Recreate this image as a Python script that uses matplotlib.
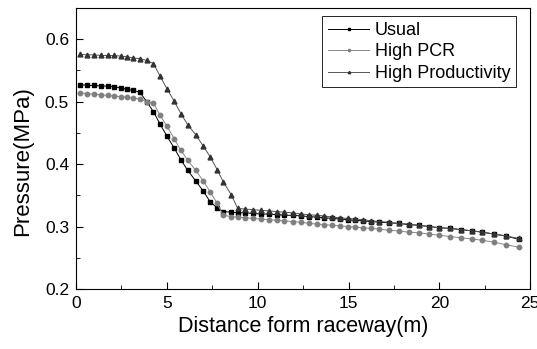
import matplotlib
matplotlib.use("Agg")
import matplotlib.pyplot as plt
from matplotlib.ticker import MultipleLocator

plt.rcParams['font.family'] = ['Liberation Sans', 'DejaVu Sans']

# distance from raceway (m), shared mesh for all three cases
distance = [0.22, 0.6, 1.0, 1.38, 1.75, 2.1, 2.45, 2.8, 3.15, 3.52, 3.89, 4.26,
            4.63, 5.0, 5.4, 5.77, 6.15, 6.59, 7.0, 7.4, 7.77, 8.1, 8.54, 8.9,
            9.32, 9.76, 10.18, 10.63, 11.05, 11.47, 11.93, 12.39, 12.83, 13.25,
            13.67, 14.11, 14.54, 14.96, 15.35, 15.8, 16.25, 16.7, 17.2, 17.75,
            18.3, 18.85, 19.44, 20.0, 20.59, 21.2, 21.81, 22.37, 22.98, 23.64, 24.36]

usual = [0.5275, 0.526, 0.526, 0.525, 0.525, 0.524, 0.522, 0.520, 0.518, 0.515,
         0.500, 0.484, 0.464, 0.445, 0.426, 0.407, 0.390, 0.373, 0.357, 0.339,
         0.330, 0.324, 0.323, 0.322, 0.322, 0.321, 0.320, 0.320, 0.319, 0.318,
         0.318, 0.317, 0.316, 0.315, 0.314, 0.313, 0.312, 0.311, 0.310, 0.309,
         0.308, 0.307, 0.306, 0.305, 0.303, 0.302, 0.300, 0.298, 0.297, 0.295,
         0.293, 0.291, 0.288, 0.285, 0.2795]

high_pcr = [0.514, 0.513, 0.512, 0.511, 0.510, 0.509, 0.508, 0.507, 0.506, 0.504,
            0.500, 0.498, 0.478, 0.461, 0.441, 0.422, 0.406, 0.390, 0.373, 0.355,
            0.337, 0.318, 0.316, 0.315, 0.314, 0.313, 0.312, 0.311, 0.310, 0.309,
            0.308, 0.307, 0.305, 0.304, 0.303, 0.302, 0.301, 0.300, 0.299, 0.298,
            0.297, 0.296, 0.294, 0.293, 0.291, 0.290, 0.288, 0.286, 0.284, 0.282,
            0.280, 0.278, 0.275, 0.271, 0.267]

high_prod = [0.576, 0.575, 0.575, 0.574, 0.574, 0.574, 0.573, 0.572, 0.570, 0.569,
             0.566, 0.561, 0.541, 0.521, 0.501, 0.481, 0.463, 0.447, 0.429, 0.411,
             0.391, 0.372, 0.351, 0.329, 0.328, 0.327, 0.326, 0.325, 0.324, 0.323,
             0.322, 0.320, 0.319, 0.318, 0.317, 0.315, 0.314, 0.313, 0.312, 0.311,
             0.309, 0.308, 0.307, 0.305, 0.304, 0.302, 0.300, 0.298, 0.297, 0.295,
             0.293, 0.291, 0.288, 0.285, 0.281]

fig = plt.figure(figsize=(5.37, 3.49), dpi=100)
ax = fig.add_axes([0.1415, 0.172, 0.846, 0.805])

ax.plot(distance, usual, color='black', lw=0.7, marker='s', ms=3,
        mfc='black', mec='black', label='Usual')
ax.plot(distance, high_pcr, color='#888888', lw=0.7, marker='o', ms=3.2,
        mfc='#808080', mec='#808080', label='High PCR')
ax.plot(distance, high_prod, color='#555555', lw=0.7, marker='^', ms=3.5,
        mfc='#333333', mec='#333333', label='High Productivity')

ax.set_xlim(0, 25)
ax.set_ylim(0.2, 0.65)
ax.xaxis.set_major_locator(MultipleLocator(5))
ax.xaxis.set_minor_locator(MultipleLocator(2.5))
ax.yaxis.set_major_locator(MultipleLocator(0.1))
ax.yaxis.set_minor_locator(MultipleLocator(0.05))
ax.tick_params(which='both', direction='in', top=False, right=False, labelsize=12.5)
ax.tick_params(which='major', length=5, pad=5)
ax.tick_params(which='minor', length=3)
ax.set_yticks([0.2, 0.3, 0.4, 0.5, 0.6])
ax.set_yticklabels(['0.2', '0.3', '0.4', '0.5', '0.6'])

ax.set_xlabel('Distance form raceway(m)', fontsize=15.5, labelpad=4)
ax.set_ylabel('Pressure(MPa)', fontsize=16)
ax.yaxis.set_label_coords(-0.095, 0.455)

leg = ax.legend(loc='upper right', bbox_to_anchor=(0.968, 0.97), borderaxespad=0,
                fontsize=13, markerscale=0.5, handlelength=2.3, fancybox=False,
                framealpha=1, edgecolor='black', borderpad=0.3, labelspacing=0.25,
                handletextpad=0.3)
leg.get_frame().set_linewidth(0.6)

fig.savefig('out.png', dpi=100)
